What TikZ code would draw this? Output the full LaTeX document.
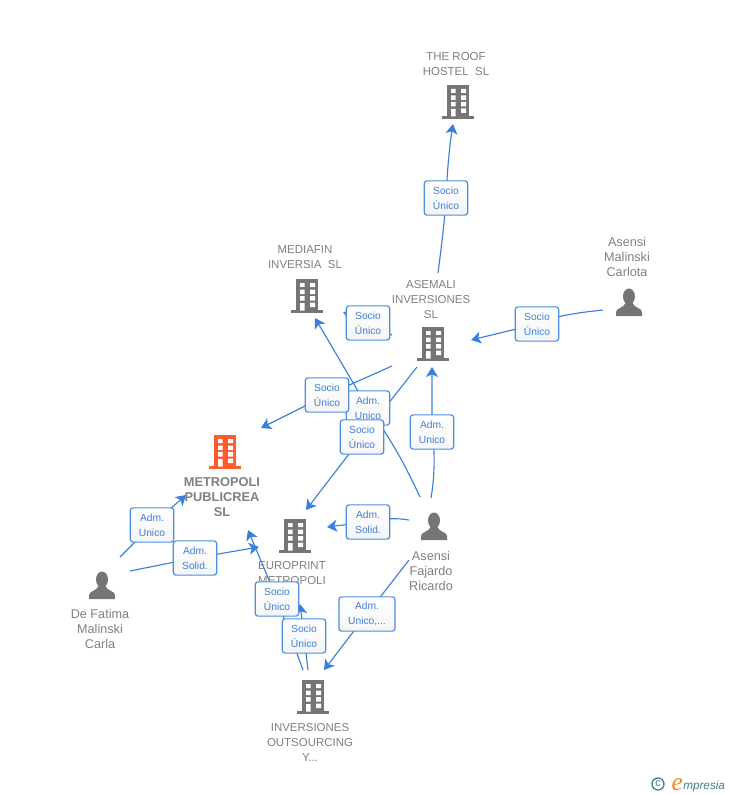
\documentclass[tikz,border=0pt]{standalone}
\usepackage{fontspec}
\setmainfont{Liberation Sans}
\newfontfamily\logofont{Liberation Serif}
\usetikzlibrary{arrows.meta,backgrounds}
\definecolor{icongray}{HTML}{757575}
\definecolor{iconorange}{HTML}{FF5C2E}
\definecolor{txtgray}{HTML}{808080}
\definecolor{linkblue}{HTML}{3B7FDD}
\definecolor{lblblue}{HTML}{4A8FE3}
\definecolor{lbltxt}{HTML}{3F7FD6}
\definecolor{logoteal}{HTML}{3F7F93}
\definecolor{eorange}{HTML}{F08A24}
\tikzset{
  x=0.75pt,y=-0.75pt,
  pics/bldg/.style={code={
    \fill[#1] (-11,-17) rectangle (11,15);
    \fill[#1] (-16,14) rectangle (16,17);
    \fill[white] (-7,-13) rectangle (-2.5,-9) (3,-13) rectangle (8,-9)
      (-7,-6.5) rectangle (-2.5,-2) (3,-6.5) rectangle (8,-2)
      (-7,0) rectangle (-2.5,4.5) (3,0) rectangle (8,4.5)
      (-7,7) rectangle (-2.5,14.5) (3,6.5) rectangle (8,11);
  }},
  pics/person/.style={code={
    \fill[icongray] (0,-6.5) ellipse (6 and 8);
    \fill[icongray] (-13,13) -- (-13,9) .. controls (-13,5) and (-5,5) .. (-3.5,0)
      -- (3.5,0) .. controls (5,5) and (13,5) .. (13,9) -- (13,13) -- cycle;
  }},
  ent/.style={font=\fontsize{8.6pt}{11.25pt}\selectfont,text=txtgray,align=center,inner sep=0pt},
  pers/.style={font=\fontsize{9.5pt}{11.25pt}\selectfont,text=txtgray,align=center,inner sep=0pt},
  mainent/.style={font=\fontsize{9.6pt}{11.25pt}\selectfont\bfseries,text=txtgray,align=center,inner sep=0pt},
  lbl/.style={draw=lblblue,line width=0.9pt,rounded corners=2pt,top color=white,bottom color=white!96!black,
    text=lbltxt,font=\fontsize{7.7pt}{11.25pt}\selectfont,align=center,minimum width=32.5pt,minimum height=25.7pt,inner sep=0pt},
  conn/.style={draw=linkblue,line width=0.85pt},
  arr/.style={conn,-{Stealth[length=7.5pt,width=9pt,inset=2pt]}},
}
\begin{document}
\begin{tikzpicture}
\useasboundingbox (0,0) rectangle (728,795);
% icons
\pic at (458,102) {bldg=icongray};
\pic at (307,296) {bldg=icongray};
\pic at (433,344) {bldg=icongray};
\pic at (225,452) {bldg=iconorange};
\pic at (295,536) {bldg=icongray};
\pic at (313,697) {bldg=icongray};
\pic at (629,303) {person};
\pic at (434,527) {person};
\pic at (102,586) {person};
% entity texts
\node[ent] (roof) at (456,64) {THE ROOF\\HOSTEL\ \ SL};
\node[ent] (mediafin) at (305,257.5) {MEDIAFIN\\INVERSIA\ \ SL};
\node[ent] (asemali) at (431,300) {ASEMALI\\INVERSIONES\\SL};
\node[pers] (carlota) at (627,257) {Asensi\\Malinski\\Carlota};
\node[mainent] (metropoli) at (222,497) {METROPOLI\\PUBLICREA\\SL};
\node[ent] (europrint) at (292,581) {EUROPRINT\\METROPOLI\\SL};
\node[pers] (ricardo) at (431,571) {Asensi\\Fajardo\\Ricardo};
\node[pers] (carla) at (100,629) {De Fatima\\Malinski\\Carla};
\node[ent] (inversiones) at (310,742) {INVERSIONES\\OUTSOURCING\\Y...};
% labels
\node[lbl] (l1) at (446,198) {Socio\\Único};
\node[lbl] (l2) at (537,324) {Socio\\Único};
\node[lbl] (l3) at (368,323) {Socio\\Único};
\node[lbl] (l4) at (368,408) {Adm.\\Unico};
\node[lbl] (l5) at (327,395) {Socio\\Único};
\node[lbl] (l6) at (362,437) {Socio\\Único};
\node[lbl] (l7) at (432,432) {Adm.\\Unico};
\node[lbl] (l8) at (368,522) {Adm.\\Solid.};
\node[lbl] (l9) at (152,525) {Adm.\\Unico};
\node[lbl] (l10) at (195,558) {Adm.\\Solid.};
\node[lbl] (l11) at (277,599) {Socio\\Único};
\node[lbl] (l12) at (304,636) {Socio\\Único};
\node[lbl,minimum width=42pt] (l13) at (367,614) {Adm.\\Unico,...};
% free ends of the connectors
\coordinate (s1) at (438,273); \coordinate (e1) at (453,124);
\coordinate (s2) at (603,310); \coordinate (e2) at (471,340);
\coordinate (s3) at (392,335); \coordinate (e3) at (343,312);
\coordinate (s4) at (420,497); \coordinate (e4) at (315,318);
\coordinate (s5) at (392,366); \coordinate (e5) at (261,428);
\coordinate (s6) at (417,367); \coordinate (e6) at (306,510);
\coordinate (s7) at (431,498); \coordinate (e7) at (432,367);
\coordinate (s8) at (409,520); \coordinate (e8) at (327,527);
\coordinate (s9) at (120,557); \coordinate (e9) at (186,495);
\coordinate (s10) at (130,571); \coordinate (e10) at (259,547);
\coordinate (s11) at (303,670); \coordinate (e11) at (248,530);
\coordinate (s12) at (308,670); \coordinate (e12) at (300,604);
\coordinate (s13) at (409,560); \coordinate (e13) at (324,670);
\begin{scope}[on background layer]
\fill[white] (0,0) rectangle (728,795);
\draw[arr] (s1) .. controls (443,235) and (445,215) .. (l1.center) .. controls (447,175) and (449,150) .. (e1);
\draw[arr] (s2) .. controls (575,313) and (555,316) .. (l2.center) -- (e2);
\draw[arr] (s3) -- (l3.center) -- (e3);
\draw[arr] (s4) .. controls (405,465) and (392,440) .. (l4.center) -- (e4);
\draw[arr] (s5) -- (l5.center) -- (e5);
\draw[arr] (s6) -- (l6.center) -- (e6);
\draw[arr] (s7) .. controls (435,475) and (435,450) .. (l7.center) -- (e7);
\draw[arr] (s8) .. controls (397,518) and (385,518) .. (l8.center) -- (e8);
\draw[arr] (s9) -- (l9.center) -- (e9);
\draw[arr] (s10) -- (l10.center) -- (e10);
\draw[arr] (s11) -- (l11.center) -- (e11);
\draw[arr] (s12) -- (l12.center) -- (e12);
\draw[arr] (s13) -- (l13.center) -- (e13);
\end{scope}
% logo
\node[circle,draw=logoteal,line width=1pt,text=logoteal,inner sep=0pt,minimum size=9pt,font=\fontsize{8pt}{8pt}\selectfont] (copy) at (658,784) {c};
\node[anchor=base west,inner sep=0pt,text=logoteal,font=\itshape\fontsize{8.8pt}{10pt}\selectfont] (brand) at (683,789) {mpresia};
\node[anchor=base east,inner sep=0pt,text=eorange,font=\logofont\itshape\fontsize{19pt}{19pt}\selectfont] (logoe) at (683,790) {e};
\end{tikzpicture}
\end{document}
